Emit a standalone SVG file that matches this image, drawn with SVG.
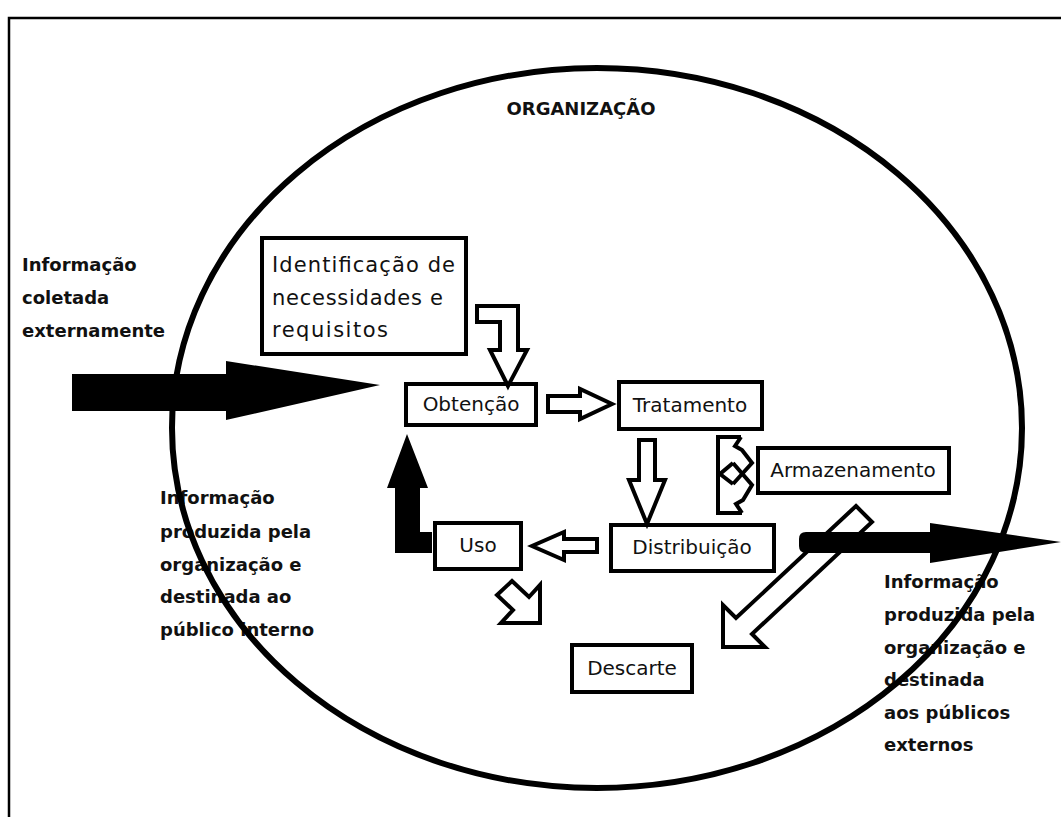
<svg xmlns="http://www.w3.org/2000/svg" width="1061" height="817" viewBox="0 0 1061 817">
<style>
.box{fill:#fff;stroke:#000;stroke-width:4}
.lbl{font-family:"DejaVu Sans","Liberation Sans",sans-serif;font-size:20px;fill:#111;text-anchor:middle}
.lft{font-family:"DejaVu Sans","Liberation Sans",sans-serif;font-size:21px;fill:#111}
.note{font-family:"DejaVu Sans","Liberation Sans",sans-serif;font-size:18px;font-weight:bold;fill:#111}
.hol{fill:#fff;stroke:#000;stroke-width:4;stroke-linejoin:miter}
.sol{fill:#000;stroke:none}
.ln{fill:none;stroke:#000;stroke-width:4;stroke-linejoin:miter}
</style>
<rect width="1061" height="817" fill="#fff"/>
<path d="M9,817 V18 H1061" fill="none" stroke="#000" stroke-width="2.5"/>

<g id="notes">
<text class="note" x="581" y="115" text-anchor="middle" font-size="17">ORGANIZAÇÃO</text>
<text class="note" x="22" y="271">Informação</text>
<text class="note" x="22" y="304">coletada</text>
<text class="note" x="22" y="337">externamente</text>
<text class="note" x="160" y="504">Informação</text>
<text class="note" x="160" y="538">produzida pela</text>
<text class="note" x="160" y="571">organização e</text>
<text class="note" x="160" y="603">destinada ao</text>
<text class="note" x="160" y="636">público interno</text>
<text class="note" x="884" y="588">Informação</text>
<text class="note" x="884" y="621">produzida pela</text>
<text class="note" x="884" y="654">organização e</text>
<text class="note" x="884" y="686">destinada</text>
<text class="note" x="884" y="719">aos públicos</text>
<text class="note" x="884" y="751">externos</text>
</g>

<g id="organizacao">
<ellipse cx="597" cy="428" rx="425" ry="360" fill="none" stroke="#000" stroke-width="6"/>
</g>

<g id="identificacao">
<rect class="box" x="262" y="238" width="204" height="116"/>
<text class="lft" x="272" y="272" textLength="183" lengthAdjust="spacing">Identificação de</text>
<text class="lft" x="272" y="305" textLength="171" lengthAdjust="spacing">necessidades e</text>
<text class="lft" x="272" y="337" textLength="116" lengthAdjust="spacing">requisitos</text>
</g>
<g id="obtencao">
<rect class="box" x="406" y="384" width="130" height="41"/>
<text class="lbl" x="471" y="411">Obtenção</text>
</g>
<g id="tratamento">
<rect class="box" x="619" y="382" width="143" height="47"/>
<text class="lbl" x="690" y="412">Tratamento</text>
</g>
<g id="armazenamento">
<rect class="box" x="758" y="448" width="191" height="45"/>
<text class="lbl" x="853" y="477">Armazenamento</text>
</g>
<g id="distribuicao">
<rect class="box" x="611" y="525" width="163" height="46"/>
<text class="lbl" x="692" y="554">Distribuição</text>
</g>
<g id="uso">
<rect class="box" x="435" y="523" width="86" height="46"/>
<text class="lbl" x="478" y="552">Uso</text>
</g>
<g id="descarte">
<rect class="box" x="572" y="645" width="120" height="47"/>
<text class="lbl" x="632" y="675">Descarte</text>
</g>

<g id="connectors">
<polygon class="hol" points="477,306 518,306 518,350 527,350 508,386 490,350 500,350 500,322 477,322"/>
<polygon class="hol" points="548,396 580,396 580,389 612,404 580,419 580,412 548,412"/>
<polygon class="hol" points="639,440 655,440 655,480 665,480 647,524 629,480 639,480"/>
<polygon class="hol" points="597,539 564,539 564,532 532,546 564,560 564,552 597,552"/>
<polygon class="hol" points="512,581 529,597 540,585 540,623 501,623 513,610 497,595"/>
<polygon class="hol" points="856,506 872,522 752,634 765,647 723,647 723,605 736,618"/>
<path class="ln" d="M741,437 H718 V513 H742"/>
<path class="ln" d="M741,437 L735,446 L742,450 L752,463 L733,484"/>
<path class="ln" d="M742,513 L736,504 L743,500 L752,485 L733,463"/>
<path class="ln" d="M733,463 L720,474 L733,484"/>
<polygon class="sol" points="72,374 226,374 226,361 380,385 226,420 226,411 72,411"/>
<polygon class="sol" points="387,488 407,434 428,488 420,488 420,532 432,532 432,553 395,553 395,488"/>
<path class="sol" d="M806,532 H930 V523 L1061,542 L930,563 V553 H806 Q799,553 799,546 V539 Q799,532 806,532 Z"/>
</g>
</svg>
